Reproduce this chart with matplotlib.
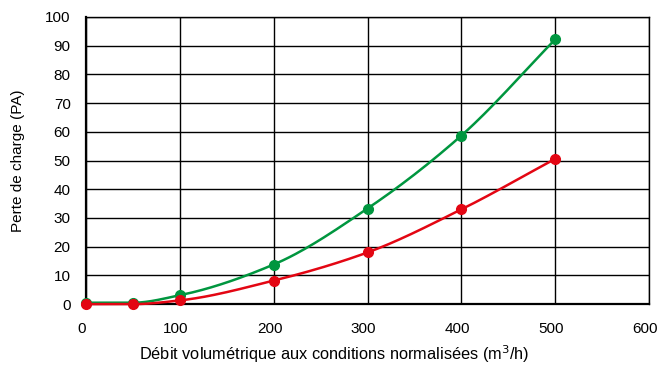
import numpy as np
import matplotlib
matplotlib.use("Agg")
import matplotlib.pyplot as plt
import matplotlib.transforms as mtransforms

plt.rcParams['font.family'] = ['Liberation Sans', 'DejaVu Sans']

debit = [0, 50, 100, 200, 300, 400, 500]
perte_vert = [0.5, 0.5, 3.1, 13.8, 33.3, 58.7, 92.2]
perte_rouge = [0.0, 0.0, 1.3, 8.2, 18.0, 33.0, 50.6]
x_ticks = [0, 100, 200, 300, 400, 500, 600]
y_ticks = list(range(0, 101, 10))

GREEN = '#00963F'
RED = '#E30613'


def smooth(x, y, n=30):
    x = np.asarray(x, float)
    y = np.asarray(y, float)
    # monotone cubic (Fritsch-Carlson) for rendering only
    h = np.diff(x)
    d = np.diff(y) / h
    m = np.zeros_like(x)
    m[0], m[-1] = d[0], d[-1]
    for i in range(1, len(x) - 1):
        if d[i - 1] * d[i] <= 0:
            m[i] = 0
        else:
            w1 = 2 * h[i] + h[i - 1]
            w2 = h[i] + 2 * h[i - 1]
            m[i] = (w1 + w2) / (w1 / d[i - 1] + w2 / d[i])
    xs, ys = [], []
    for i in range(len(x) - 1):
        t = np.linspace(0, 1, n, endpoint=(i == len(x) - 2))
        h00 = 2 * t**3 - 3 * t**2 + 1
        h10 = t**3 - 2 * t**2 + t
        h01 = -2 * t**3 + 3 * t**2
        h11 = t**3 - t**2
        xs.append(x[i] + t * h[i])
        ys.append(h00 * y[i] + h10 * h[i] * m[i] + h01 * y[i + 1] + h11 * h[i] * m[i + 1])
    return np.concatenate(xs), np.concatenate(ys)


fig = plt.figure(figsize=(6.61, 3.85), dpi=100)
ax = fig.add_axes([0.130, 0.210, 0.852, 0.746])

for s, c in ((perte_vert, GREEN), (perte_rouge, RED)):
    sx, sy = smooth(debit, s)
    ax.plot(sx, sy, color=c, lw=1.8, clip_on=False, zorder=3)
    ax.plot(debit, s, 'o', color=c, ms=7, clip_on=False, zorder=4)

ax.set_xlim(0, 600)
ax.set_ylim(0, 100)
ax.set_xticks(x_ticks)
ax.set_yticks(y_ticks)
ax.grid(True, color='black', lw=1.0)
ax.set_axisbelow(True)
ax.tick_params(axis='x', length=0, labelsize=11, pad=13)
ax.tick_params(axis='y', length=0, labelsize=11, pad=11)
for sp in ax.spines.values():
    sp.set_linewidth(1.0)
ax.spines['left'].set_linewidth(1.6)
ax.spines['bottom'].set_linewidth(1.6)

offset = mtransforms.ScaledTranslation(-4 / 100, 0, fig.dpi_scale_trans)
for lab in ax.get_xticklabels():
    lab.set_transform(lab.get_transform() + offset)

ax.set_ylabel('Perte de charge (PA)', fontsize=11)
ax.yaxis.set_label_coords(-0.108, 0.5)
ax.set_xlabel('Débit volumétrique aux conditions normalisées (m$^3$/h)', fontsize=11.8)
ax.xaxis.set_label_coords(0.44, -0.135)

fig.savefig('out.png', dpi=100)
